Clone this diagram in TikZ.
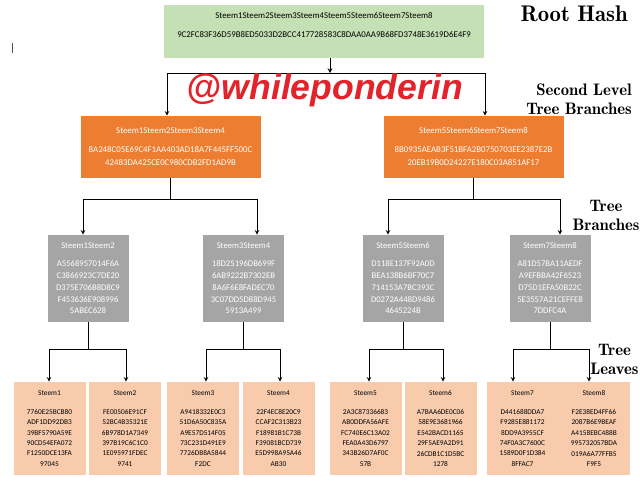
\documentclass[tikz,border=0pt]{standalone}
\usepackage{fontspec}
\newfontfamily\boxfont{Carlito}
\newfontfamily\tagfont{Liberation Sans}
\newfontfamily\levelfont{lmromandemi10-regular.otf}
\definecolor{rootgreen}{HTML}{C5E0B4}
\definecolor{branchorange}{HTML}{ED7D31}
\definecolor{twiggray}{HTML}{A5A5A5}
\definecolor{leafpeach}{HTML}{F8CBAD}
\definecolor{tagred}{HTML}{E2232B}

\begin{document}
\begin{tikzpicture}[x=0.75pt,y=-0.75pt,>=stealth,
  roothash/.style={fill=rootgreen,minimum width=240pt,minimum height=39.75pt,inner sep=0pt,align=center,text width=236pt,font=\boxfont\fontsize{6.6}{9.75}\selectfont},
  branch/.style={fill=branchorange,text=white,minimum width=135pt,minimum height=46.5pt,inner sep=0pt,align=center,text width=130pt,font=\boxfont\fontsize{6.6}{9.75}\selectfont},
  twig/.style={fill=twiggray,text=white,minimum width=60.75pt,minimum height=65.25pt,inner sep=0pt,align=center,text width=58pt,font=\boxfont\fontsize{6.5}{8.8}\selectfont},
  leaf/.style={fill=leafpeach,minimum width=54pt,minimum height=69.75pt,inner sep=0pt,align=center,text width=52pt,font=\boxfont\fontsize{5.5}{7.8}\selectfont},
  level/.style={font=\levelfont\fontsize{12.5}{14.25}\selectfont,inner sep=0pt},
  link/.style={line width=0.6pt}]
\useasboundingbox (0,0) rectangle (640,483);

\node[roothash] (root) at (324,31.5) {Steem1Steem2Steem3Steem4Steem5Steem6Steem7Steem8\\[4.5pt]9C2FC83F36D59B8ED5033D2BCC417728583C8DAA0AA9B68FD3748E3619D6E4F9\\[0.75pt]\mbox{}};

\node[branch] (b1) at (170.5,147) {Steem1Steem2Steem3Steem4\\[4.5pt]8A248C05E69C4F1AA403AD18A7F445FF500C\\42483DA425CE0C980CDB2FD1AD9B};
\node[branch] (b2) at (473.5,147) {Steem5Steem6Steem7Steem8\\[4.5pt]8B0935AEAB3F51BFA2B0750703EE2387E2B\\20EB19B0D24227E180C03A851AF17};

\node[twig] (t1) at (88,278.5) {Steem1Steem2\\[4.7pt]A5568957014F6A\\C3866923C7DE20\\D375E706B8D8C9\\F453636E908996\\5ABEC628};
\node[twig] (t2) at (243.5,278.5) {Steem3Steem4\\[4.7pt]18D25196DB699F\\6AB9222B7302EB\\8A6F6E8FADEC70\\3C07DD5D88D945\\5913A499};
\node[twig] (t3) at (403,278.5) {Steem5Steem6\\[4.7pt]D118E137F92A0D\\BEA138B6BF70C7\\714153A7BC393C\\D0272A448D9486\\4645224B};
\node[twig] (t4) at (550,278.5) {Steem7Steem8\\[4.7pt]A81D57BA11AEDF\\A9EFBBA42F6523\\D75D1EFA50B22C\\5E3557A21CEFFE8\\7DDFC4A};

\node[leaf] (l1) at (49.5,428.5) {Steem1\\[6.45pt]7760E25BCB80\\ADF1DD92DB3\\39BF5790A59E\\90CD54EFA072\\F1250DCE13FA\\97045};
\node[leaf] (l2) at (125,428.5) {Steem2\\[6.45pt]FE00506E91CF\\52BC4B35321E\\6B978D1A7349\\397B19C6C1C0\\1E095971FDEC\\9741};
\node[leaf] (l3) at (203,428.5) {Steem3\\[6.45pt]A9418332E0C3\\51D6A50C835A\\A9E57D514F05\\73C231D491E9\\7726DB8A5844\\F2DC};
\node[leaf] (l4) at (278.5,428.5) {Steem4\\[6.45pt]22F4EC8E20C9\\CCAF2C313B23\\F18981B1C73B\\F39081BCD739\\E5D998A95A46\\AB30};
\node[leaf] (l5) at (365.5,428.5) {Steem5\\[6.45pt]2A3C87336683\\AB0DDFA56AFE\\FC740E6C13A02\\FEA0A43D6797\\343B26D7AF0C\\57B};
\node[leaf] (l6) at (440.5,428.5) {Steem6\\[6.45pt]A7BAA6DE0C06\\58E9E3681966\\E542BACD1165\\29F5AE9A2D91\\26CDB1C1D5BC\\1278};
\node[leaf] (l7) at (522.5,428.5) {Steem7\\[6.45pt]D441688DDA7\\F9285E881172\\8DD9A3955CF\\74F0A3C7600C\\1589D0F1D384\\8FFAC7};
\node[leaf] (l8) at (594,428.5) {Steem8\\[6.45pt]F2E38ED4FF66\\2087B6E9BEAF\\A4158EBC488B\\995732057BDA\\019A6A77FFB5\\F9F5};

\coordinate (r0) at (330,73);
\coordinate (rl) at (167,73);
\coordinate (rr) at (485,73);
\draw[link,->] (root.south -| r0) -- (r0);
\draw[link] (rl) -- (rr);
\draw[link,->] (rl) -- (b1.north -| rl);
\draw[link,->] (rr) -- (b2.north -| rr);

\coordinate (s1l) at (83,199);
\coordinate (s1r) at (257,199);
\coordinate (s2l) at (388,199);
\coordinate (s2r) at (560,199);
\draw[link] (b1.south) -- (b1.south |- s1l);
\draw[link] (b2.south) -- (b2.south |- s2l);
\draw[link] (s1l) -- (s1r);
\draw[link] (s2l) -- (s2r);
\draw[link,->] (s1l) -- (t1.north -| s1l);
\draw[link,->] (s1r) -- (t2.north -| s1r);
\draw[link,->] (s2l) -- (t3.north -| s2l);
\draw[link,->] (s2r) -- (t4.north -| s2r);

\coordinate (p1l) at (49,349);
\coordinate (p1r) at (126,349);
\coordinate (p2l) at (206,349);
\coordinate (p2r) at (280,349);
\coordinate (p3l) at (369,349);
\coordinate (p3r) at (443,349);
\coordinate (p4l) at (513,349);
\coordinate (p4r) at (589,349);
\draw[link] (t1.south) -- (t1.south |- p1l);
\draw[link] (t2.south) -- (t2.south |- p2l);
\draw[link] (t3.south) -- (t3.south |- p3l);
\draw[link] (t4.south) -- (t4.south |- p4l);
\draw[link] (p1l) -- (p1r);
\draw[link] (p2l) -- (p2r);
\draw[link] (p3l) -- (p3r);
\draw[link] (p4l) -- (p4r);
\draw[link,->] (p1l) -- (l1.north -| p1l);
\draw[link,->] (p1r) -- (l2.north -| p1r);
\draw[link,->] (p2l) -- (l3.north -| p2l);
\draw[link,->] (p2r) -- (l4.north -| p2r);
\draw[link,->] (p3l) -- (l5.north -| p3l);
\draw[link,->] (p3r) -- (l6.north -| p3r);
\draw[link,->] (p4l) -- (l7.north -| p4l);
\draw[link,->] (p4r) -- (l8.north -| p4r);

\node[font=\tagfont\bfseries\itshape\fontsize{26.7}{30}\selectfont,text=tagred,anchor=base,inner sep=0pt] (tag) at (325,99) {@whileponderin};

\node[font=\levelfont\fontsize{17}{20}\selectfont,anchor=base east,inner sep=0pt] (roothead) at (628,21) {Root Hash};
\node[level,align=right,anchor=north east] (secondhead) at (632,83.3) {Second Level\\Tree Branches};
\node[level,align=center,anchor=north] (branchhead) at (606,200.4) {Tree\\Branches};
\node[level,align=center,anchor=north] (leafhead) at (614.5,344.4) {Tree\\Leaves};

\draw[line width=0.6pt,black!70] (12,43) -- (12,53);
\end{tikzpicture}
\end{document}
